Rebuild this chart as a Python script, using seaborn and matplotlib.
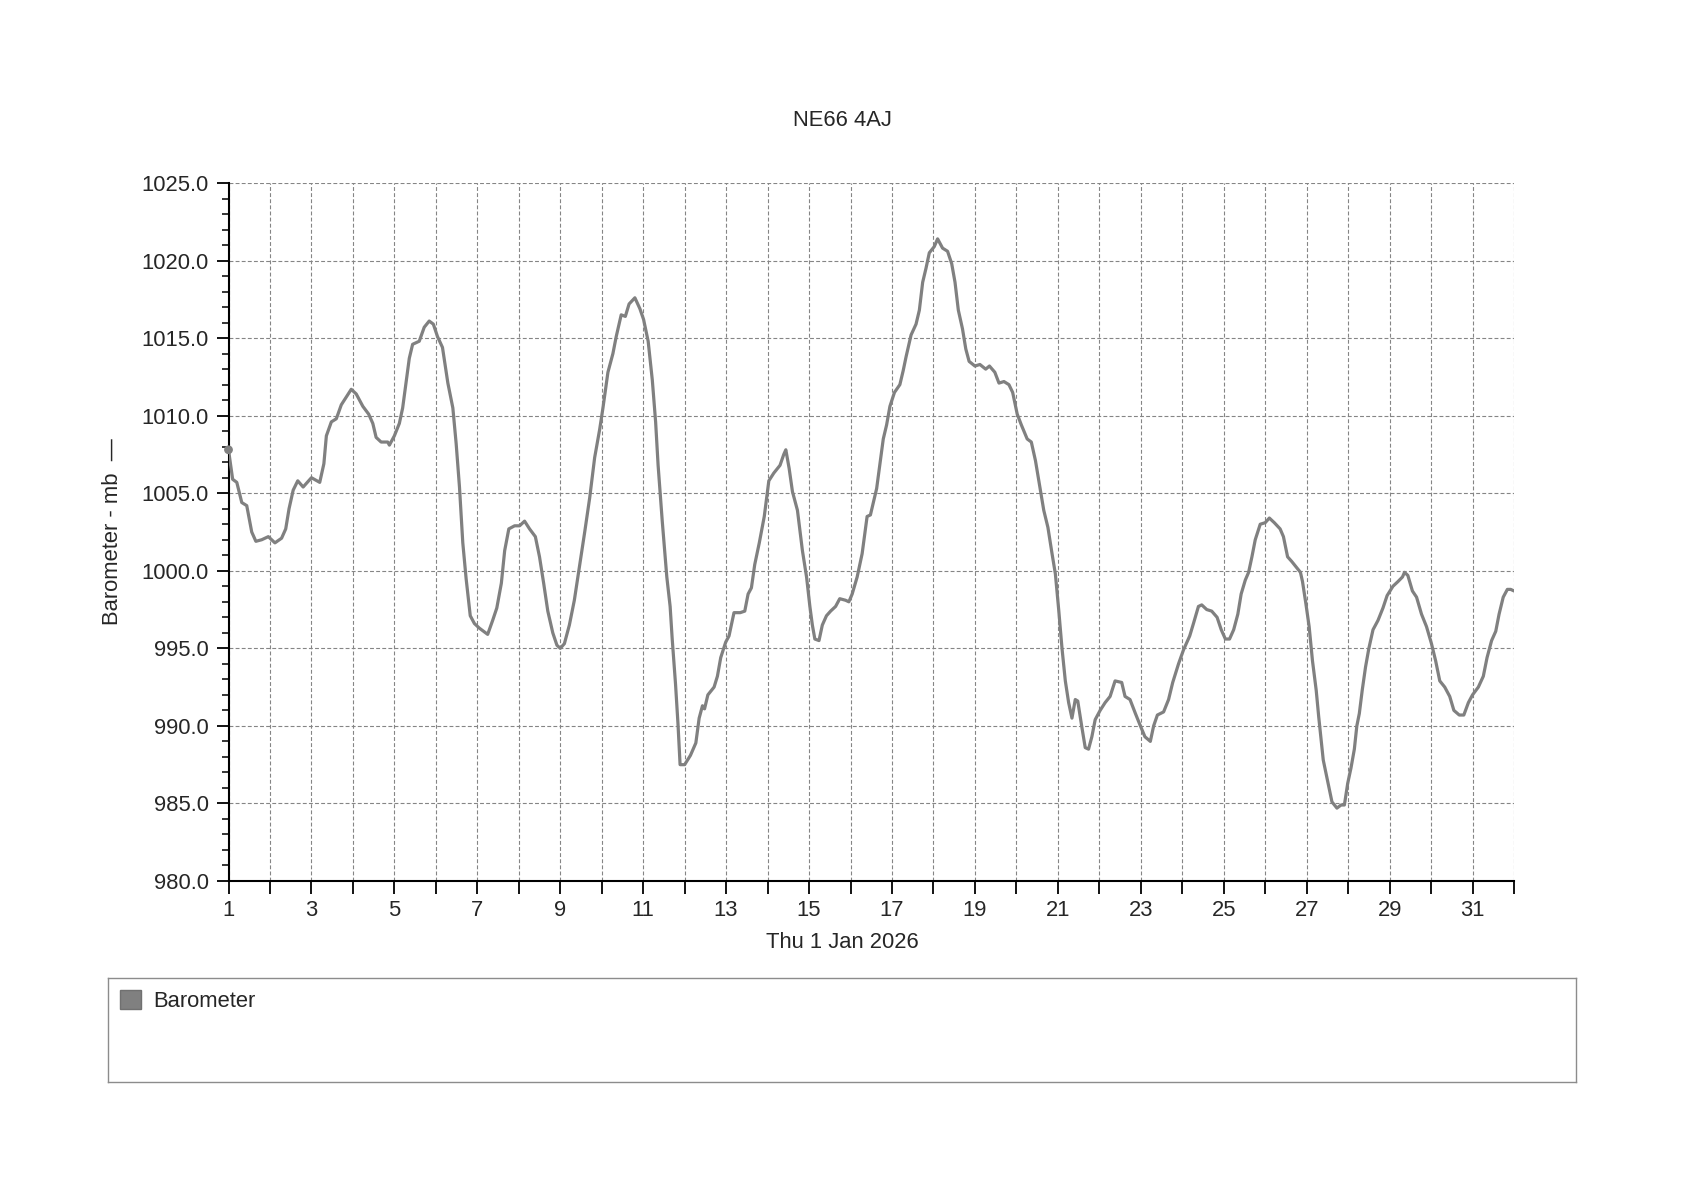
import pandas as pd
import seaborn as sns
import matplotlib.pyplot as plt
from matplotlib.patches import Patch
from matplotlib.ticker import MultipleLocator, FormatStrFormatter

# barometer readings (day of month, mb)
days = [
    1.0, 1.1, 1.2, 1.32, 1.44, 1.56, 1.66, 1.8, 1.96, 2.12, 2.28, 2.38, 2.46, 2.56, 2.67, 2.8,
    3.0, 3.2, 3.3, 3.36, 3.48, 3.6, 3.72, 3.84, 3.96, 4.08, 4.24, 4.38, 4.48, 4.56, 4.68, 4.84,
    4.88, 5.0, 5.12, 5.2, 5.28, 5.36, 5.44, 5.6, 5.72, 5.84, 5.94, 6.04, 6.16, 6.29, 6.41, 6.49,
    6.57, 6.65, 6.73, 6.83, 6.93, 7.05, 7.25, 7.37, 7.47, 7.58, 7.66, 7.76, 7.9, 8.02, 8.14, 8.26,
    8.4, 8.5, 8.6, 8.7, 8.82, 8.92, 9.0, 9.1, 9.22, 9.34, 9.47, 9.59, 9.71, 9.83, 9.95, 10.03,
    10.15, 10.27, 10.35, 10.47, 10.57, 10.66, 10.8, 10.92, 11.01, 11.12, 11.22, 11.3, 11.36, 11.46,
    11.57, 11.65, 11.7, 11.78, 11.84, 11.89, 12.0, 12.14, 12.27, 12.35, 12.43, 12.48, 12.56, 12.71,
    12.79, 12.87, 12.99, 13.07, 13.19, 13.34, 13.45, 13.53, 13.61, 13.69, 13.8, 13.92, 14.03, 14.15,
    14.3, 14.39, 14.44, 14.52, 14.6, 14.72, 14.84, 14.94, 15.02, 15.08, 15.14, 15.24, 15.32, 15.42,
    15.52, 15.64, 15.74, 15.88, 15.96, 16.04, 16.16, 16.28, 16.4, 16.48, 16.56, 16.63, 16.71, 16.79,
    16.87, 16.95, 17.06, 17.19, 17.27, 17.34, 17.46, 17.58, 17.66, 17.74, 17.82, 17.9, 18.02, 18.1,
    18.22, 18.34, 18.44, 18.52, 18.6, 18.7, 18.78, 18.86, 19.0, 19.12, 19.26, 19.35, 19.48, 19.58,
    19.7, 19.82, 19.91, 20.02, 20.12, 20.26, 20.36, 20.46, 20.56, 20.66, 20.76, 20.86, 20.94, 21.02,
    21.1, 21.18, 21.26, 21.34, 21.42, 21.48, 21.58, 21.66, 21.74, 21.82, 21.9, 22.02, 22.14, 22.26,
    22.38, 22.54, 22.62, 22.74, 22.87, 22.99, 23.1, 23.23, 23.31, 23.4, 23.55, 23.67, 23.77, 23.91,
    24.03, 24.18, 24.27, 24.39, 24.47, 24.59, 24.71, 24.84, 24.94, 25.04, 25.14, 25.24, 25.34, 25.42,
    25.52, 25.6, 25.68, 25.76, 25.88, 26.0, 26.1, 26.22, 26.36, 26.44, 26.54, 26.64, 26.76, 26.85,
    26.9, 26.98, 27.06, 27.14, 27.23, 27.29, 27.35, 27.4, 27.47, 27.53, 27.61, 27.73, 27.83, 27.91,
    27.99, 28.07, 28.15, 28.21, 28.27, 28.34, 28.42, 28.5, 28.6, 28.72, 28.84, 28.94, 29.08, 29.2,
    29.31, 29.36, 29.44, 29.55, 29.65, 29.77, 29.89, 30.01, 30.11, 30.21, 30.33, 30.45, 30.55, 30.68,
    30.79, 30.9, 31.0, 31.14, 31.26, 31.35, 31.46, 31.56, 31.64, 31.74, 31.84, 31.92, 32.0,
]
pressure = [
    1007.8, 1005.9, 1005.7, 1004.4, 1004.2, 1002.5, 1001.9, 1002.0, 1002.2, 1001.8, 1002.1, 1002.7, 1004.0, 1005.2, 1005.8, 1005.4,
    1006.0, 1005.7, 1006.9, 1008.7, 1009.6, 1009.8, 1010.7, 1011.2, 1011.7, 1011.4, 1010.6, 1010.1, 1009.5, 1008.6, 1008.3, 1008.3,
    1008.1, 1008.7, 1009.5, 1010.5, 1012.1, 1013.7, 1014.6, 1014.8, 1015.7, 1016.1, 1015.9, 1015.1, 1014.4, 1012.1, 1010.5, 1008.2,
    1005.4, 1001.8, 999.5, 997.1, 996.6, 996.3, 995.9, 996.8, 997.6, 999.2, 1001.3, 1002.7, 1002.9, 1002.9, 1003.2, 1002.7,
    1002.2, 1000.9, 999.2, 997.4, 996.0, 995.2, 995.0, 995.3, 996.5, 998.1, 1000.4, 1002.5, 1004.7, 1007.3, 1009.1, 1010.5,
    1012.8, 1014.0, 1015.1, 1016.5, 1016.4, 1017.2, 1017.6, 1016.9, 1016.2, 1014.8, 1012.3, 1009.6, 1006.8, 1003.2,
    999.6, 997.7, 995.6, 992.7, 990.1, 987.5, 987.5, 988.1, 988.9, 990.5, 991.3, 991.1, 992.0, 992.5,
    993.2, 994.4, 995.4, 995.8, 997.3, 997.3, 997.4, 998.5, 998.9, 1000.4, 1001.8, 1003.5, 1005.8, 1006.3,
    1006.8, 1007.5, 1007.8, 1006.6, 1005.1, 1003.9, 1001.3, 999.6, 997.7, 996.5, 995.6, 995.5, 996.5, 997.1,
    997.4, 997.7, 998.2, 998.1, 998.0, 998.5, 999.6, 1001.1, 1003.5, 1003.6, 1004.5, 1005.3, 1006.9, 1008.5,
    1009.4, 1010.6, 1011.5, 1012.0, 1012.9, 1013.8, 1015.2, 1015.9, 1016.8, 1018.6, 1019.5, 1020.5, 1020.9, 1021.4,
    1020.8, 1020.6, 1019.8, 1018.6, 1016.8, 1015.6, 1014.3, 1013.5, 1013.2, 1013.3, 1013.0, 1013.2, 1012.8, 1012.1,
    1012.2, 1012.0, 1011.5, 1010.1, 1009.4, 1008.5, 1008.3, 1007.1, 1005.5, 1003.9, 1002.8, 1001.1, 999.8, 997.5,
    995.0, 992.9, 991.5, 990.5, 991.7, 991.6, 989.9, 988.6, 988.5, 989.3, 990.4, 991.0, 991.5, 991.9,
    992.9, 992.8, 991.9, 991.7, 990.8, 990.0, 989.3, 989.0, 990.0, 990.7, 990.9, 991.7, 992.8, 994.0,
    994.9, 995.8, 996.6, 997.7, 997.8, 997.5, 997.4, 997.0, 996.2, 995.6, 995.6, 996.2, 997.2, 998.5,
    999.4, 999.9, 1000.9, 1002.0, 1003.0, 1003.1, 1003.4, 1003.1, 1002.7, 1002.2, 1000.9, 1000.6, 1000.2, 999.9,
    999.3, 997.9, 996.4, 994.2, 992.3, 990.6, 989.1, 987.8, 986.9, 986.1, 985.1, 984.7, 984.9, 984.9,
    986.3, 987.3, 988.5, 990.0, 990.8, 992.3, 993.8, 995.0, 996.2, 996.8, 997.6, 998.4, 999.0, 999.3,
    999.6, 999.9, 999.7, 998.7, 998.3, 997.2, 996.4, 995.3, 994.2, 992.9, 992.5, 991.9, 991.0, 990.7,
    990.7, 991.5, 992.0, 992.5, 993.2, 994.4, 995.5, 996.1, 997.2, 998.3, 998.8, 998.8, 998.7,
]

day_ticks = list(range(1, 33))
day_labels = [str(d) if d % 2 == 1 else "" for d in day_ticks]

LINE_COLOR = "#808080"
GRID_COLOR = "#858585"
FONTSIZE = 15.8

sns.set_style("white")
plt.rcParams['font.family'] = ['Liberation Sans', 'DejaVu Sans']

df = pd.DataFrame({"day": days, "mb": pressure})

W, H = 1684, 1191
fig = plt.figure(figsize=(W / 100, H / 100), dpi=100)
ax = fig.add_axes([228.5 / W, 1 - 881 / H, (1514 - 228.5) / W, (881 - 183) / H])

sns.lineplot(data=df, x="day", y="mb", color=LINE_COLOR, linewidth=2.3, ax=ax, zorder=3)
sns.scatterplot(data=df.iloc[:1], x="day", y="mb", color=LINE_COLOR, s=40, ax=ax,
                zorder=4, edgecolor="none", clip_on=False)

ax.set_xlim(1, 32)
ax.set_ylim(980, 1025)
ax.set_xticks(day_ticks)
ax.set_xticklabels(day_labels)
ax.yaxis.set_major_locator(MultipleLocator(5))
ax.yaxis.set_minor_locator(MultipleLocator(1))
ax.yaxis.set_major_formatter(FormatStrFormatter("%.1f"))

ax.grid(True, which="major", color=GRID_COLOR, linestyle=(0, (3.5, 2)), linewidth=0.8)
ax.set_axisbelow(True)
for side in ["top", "right"]:
    ax.spines[side].set_visible(False)
for side in ["left", "bottom"]:
    ax.spines[side].set_color("black")
    ax.spines[side].set_linewidth(1.5)

ax.tick_params(axis="both", which="major", direction="out", length=9, width=1.3,
               labelsize=FONTSIZE, pad=5, color="black", left=True, bottom=True)
ax.tick_params(axis="y", which="minor", direction="out", length=5, width=1.1,
               color="black", left=True)
ax.set_xlabel("")
ax.set_ylabel("")

fig.text(0.5, 1 - 120 / H, "NE66 4AJ", ha="center", va="center", fontsize=FONTSIZE)
fig.text(0.5, 1 - 943 / H, "Thu 1 Jan 2026", ha="center", va="center", fontsize=FONTSIZE)
fig.text(112 / W, 1 - 532 / H, "Barometer - mb  \u2014", rotation=90, ha="center", va="center",
         fontsize=FONTSIZE)

# legend panel below the chart
leg_ax = fig.add_axes([108 / W, 1 - 1082 / H, (1576 - 108) / W, (1082 - 978) / H])
leg_ax.set_xticks([])
leg_ax.set_yticks([])
for s in leg_ax.spines.values():
    s.set_color("#8c8c8c")
    s.set_linewidth(1.0)
leg_ax.legend(handles=[Patch(facecolor=LINE_COLOR, edgecolor="#707070", label="Barometer")],
              loc="upper left", frameon=False, fontsize=FONTSIZE, handlelength=0.95,
              handleheight=0.95, handletextpad=0.55, borderaxespad=0.25, borderpad=0.3)

fig.savefig("out.png", dpi=100)
